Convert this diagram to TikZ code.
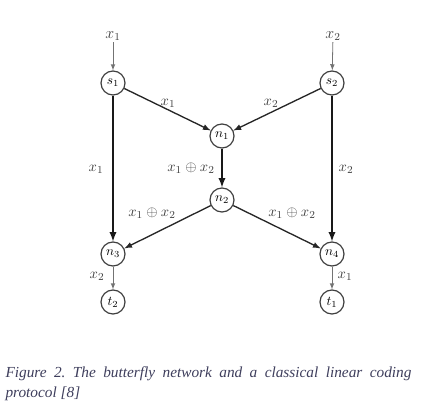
\documentclass[tikz,border=0pt]{standalone}
\usepackage{fontspec}
\setmainfont{Liberation Serif}
\frenchspacing
\definecolor{capblue}{RGB}{62,62,92}
\tikzset{every picture/.style={line width=0.75pt}}
\tikzset{
vertex/.style={draw=black!75, circle, inner sep=0pt, minimum size=18pt, line width=0.9pt, font=\normalsize},
edgelbl/.style={inner sep=0.75pt, font=\fontsize{11}{13}\selectfont, text=black!75},
thinarr/.style={draw=black!55, line width=0.6pt, -latex},
midarr/.style={draw=black!85, line width=1pt, -latex},
boldarr/.style={draw=black!90, line width=1.4pt, -latex}}

\begin{document}
\begin{tikzpicture}[x=0.75pt,y=0.75pt,yscale=-1,xscale=1]
\useasboundingbox (0,0) rectangle (437,417);

% Text Node
\node (in1) at (113,36) [edgelbl, font=\large] {$x_1$};
% Text Node
\node (in2) at (333,36) [edgelbl, font=\large] {$x_2$};
%Shape: Circle
\node (s1) at (113,83) [vertex] {$s_1$};
%Shape: Circle
\node (s2) at (332,83) [vertex] {$s_2$};
%Shape: Circle
\node (n1) at (222,136) [vertex] {$n_1$};
%Shape: Circle
\node (n2) at (222,200) [vertex] {$n_2$};
%Shape: Circle
\node (n3) at (113,254) [vertex] {$n_3$};
%Shape: Circle
\node (n4) at (332,254) [vertex] {$n_4$};
%Shape: Circle
\node (t2) at (113,302) [vertex] {$t_2$};
%Shape: Circle
\node (t1) at (332,302) [vertex] {$t_1$};

%Straight Lines
\draw [thinarr] (in1) -- (s1) ;
\draw [thinarr] (in2) -- (s2) ;
%Straight Lines
\draw [midarr] (s1) -- (n1) ;
\draw [midarr] (s2) -- (n1) ;
%Straight Lines
\draw [boldarr] (s1) -- (n3) ;
\draw [boldarr] (s2) -- (n4) ;
\draw [boldarr] (n1) -- (n2) ;
%Straight Lines
\draw [midarr] (n2) -- (n3) ;
\draw [midarr] (n2) -- (n4) ;
%Straight Lines
\draw [thinarr] (n3) -- (t2) ;
\draw [thinarr] (n4) -- (t1) ;

% Text Node
\node (l1) at (168,103) [edgelbl] {$x_1$};
% Text Node
\node (l2) at (271,103) [edgelbl] {$x_2$};
% Text Node
\node (l3) at (96,169) [edgelbl] {$x_1$};
% Text Node
\node (l4) at (191,168) [edgelbl] {$x_1 \oplus x_2$};
% Text Node
\node (l5) at (346,169) [edgelbl] {$x_2$};
% Text Node
\node (l6) at (152,213) [edgelbl] {$x_1 \oplus x_2$};
% Text Node
\node (l7) at (292,213) [edgelbl] {$x_1 \oplus x_2$};
% Text Node
\node (l8) at (97,276) [edgelbl] {$x_2$};
% Text Node
\node (l9) at (345,276) [edgelbl] {$x_1$};

% Text Node
\node (cap) at (5,366) [anchor=north west, inner sep=0pt, text width=304.5pt, align=justify, text=capblue, font=\fontsize{11.5}{15}\selectfont\itshape] {Figure 2. The butterfly network and a classical linear coding\linebreak protocol [8]};

\end{tikzpicture}
\end{document}
